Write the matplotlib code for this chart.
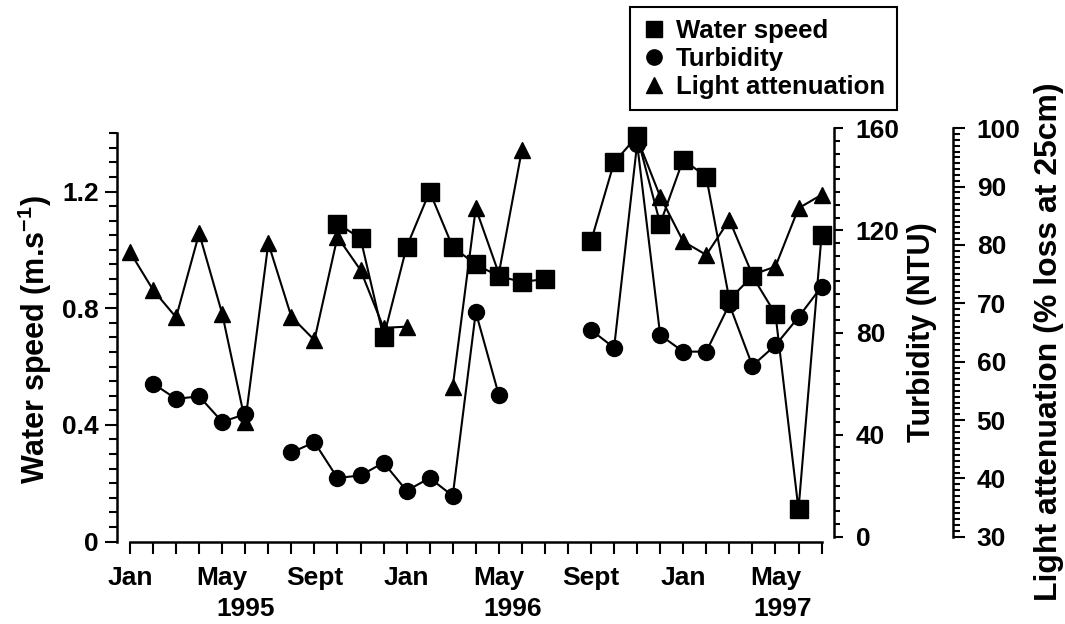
import numpy as np
import matplotlib
matplotlib.use("Agg")
from matplotlib import pyplot as plt
from matplotlib import transforms
from matplotlib.lines import Line2D

plt.rcParams.update({
    "font.family": ["Liberation Sans", "DejaVu Sans"],
    "font.weight": "bold",
    "mathtext.fontset": "custom",
    "mathtext.rm": "Liberation Sans:bold",
    "mathtext.it": "Liberation Sans:bold",
    "mathtext.bf": "Liberation Sans:bold",
    "mathtext.default": "rm",
})

nan = np.nan

# months since Jan 1995
months = list(range(31))

water_speed = [nan, nan, nan, nan, nan, nan, nan, nan, nan,
               1.09, 1.04, 0.70, 1.01, 1.20, 1.01, 0.95, 0.91, 0.89, 0.90, nan,
               1.03, 1.30, 1.39, 1.09, 1.31, 1.25, 0.83, 0.91, 0.78, 0.11, 1.05]

turbidity = [nan, 60, 54, 55, 45, 48, nan, 33, 37,
             23, 24, 29, 18, 23, 16, 88, 55.5, nan, nan, nan,
             81, 74, 154, 79, 72.5, 72.5, 91, 67, 75, 86, 98]

light_att = [78.8, 72.3, 67.6, 82.0, 68.2, 49.7, 80.3, 67.7, 63.7,
             81.4, 75.7, 65.8, 66.0, nan, 55.7, 86.3, 75.1, 96.3, nan, nan,
             nan, nan, 98.3, 88.3, 80.6, 78.3, 84.3, 74.9, 76.3, 86.3, 88.6]

tick_months = [0, 4, 8, 12, 16, 20, 24, 28]
tick_names = ["Jan", "May", "Sept", "Jan", "May", "Sept", "Jan", "May"]
year_pos = [5.0, 16.6, 28.3]
year_names = ["1995", "1996", "1997"]

W, H = 1065, 624
LW = 1.5
TICKSIZE = 19
LABELSIZE = 22

fig = plt.figure(figsize=(W / 100, H / 100), dpi=100)
ax = fig.add_axes([117 / W, 1 - 541.5 / H, 717 / W, 413.2 / H])
ax2 = ax.twinx()
ax3 = ax.twinx()

ax.plot(months, water_speed, color="black", lw=LW, marker="s", ms=12.5, clip_on=False)
ax2.plot(months, turbidity, color="black", lw=LW, marker="o", ms=11.5, clip_on=False)
ax3.plot(months, light_att, color="black", lw=LW, marker="^", ms=12, clip_on=False)

ax.set_xlim(-0.564, 30.54)
ax.set_ylim(0, 1.417)
ax2.set_ylim(-1.88, 160)
ax3.set_ylim(29.18, 100)

# spines
for s in ["top", "right"]:
    ax.spines[s].set_visible(False)
ax.spines["bottom"].set_bounds(0, 30)
ax.spines["left"].set_bounds(0, 1.4)
for a in (ax2, ax3):
    for s in ["top", "left", "bottom"]:
        a.spines[s].set_visible(False)
ax2.spines["right"].set_bounds(0, 160)
ax3.spines["right"].set_bounds(30, 100)
ax3.spines["right"].set_position(("axes", (953.3 - 117) / 717))
for a in (ax, ax2, ax3):
    for sp in a.spines.values():
        sp.set_linewidth(1.8)

# x axis: a tick every month, names every four
ax.set_xticks(tick_months)
ax.set_xticklabels(tick_names)
ax.set_xticks(months, minor=True)
ax.tick_params(axis="x", which="both", direction="out", length=8.6, width=1.5,
               pad=9, labelsize=TICKSIZE)

ax.set_yticks([0, 0.4, 0.8, 1.2])
ax.set_yticklabels(["0", "0.4", "0.8", "1.2"])
ax.set_yticks(np.arange(0, 1.401, 0.05), minor=True)
ax.tick_params(axis="y", which="major", direction="out", length=8.6, width=1.5,
               pad=4.5, labelsize=TICKSIZE)
ax.tick_params(axis="y", which="minor", direction="out", length=5.8, width=1.5)

ax2.set_yticks([0, 40, 80, 120, 160])
ax2.set_yticks(np.arange(0, 161, 5), minor=True)
ax2.tick_params(axis="y", which="major", direction="out", length=6.7, width=1.5,
                pad=9, labelsize=TICKSIZE)
ax2.tick_params(axis="y", which="minor", direction="out", length=4.3, width=1.5)

ax3.set_yticks(np.arange(30, 101, 10))
ax3.set_yticks(np.arange(30, 101, 1), minor=True)
ax3.tick_params(axis="y", which="major", direction="out", length=8.4, width=1.5,
                pad=8.4, labelsize=TICKSIZE)
ax3.tick_params(axis="y", which="minor", direction="out", length=4.8, width=1.5)

# years under the month names
trans = transforms.blended_transform_factory(ax.transData, fig.transFigure)
for x, yr in zip(year_pos, year_names):
    ax.text(x, 1 - 609 / H, yr, transform=trans, ha="center", va="center",
            fontsize=TICKSIZE, fontweight="bold")

fig.text(35 / W, 1 - 340 / H, r"Water speed (m.s$^{-1}$)", rotation=90,
         ha="center", va="center", fontsize=LABELSIZE, fontweight="bold")
fig.text(922 / W, 1 - 332 / H, "Turbidity (NTU)", rotation=90,
         ha="center", va="center", fontsize=LABELSIZE, fontweight="bold")
fig.text(1049 / W, 1 - 342 / H, "Light attenuation (% loss at 25cm)", rotation=90,
         ha="center", va="center", fontsize=23, fontweight="bold")

handles = [
    Line2D([], [], color="black", ls="none", marker="s", ms=11, label="Water speed"),
    Line2D([], [], color="black", ls="none", marker="o", ms=11, label="Turbidity"),
    Line2D([], [], color="black", ls="none", marker="^", ms=11, label="Light attenuation"),
]
leg = fig.legend(handles=handles, loc="upper left",
                 bbox_to_anchor=(630 / W, 1 - 7.3 / H), bbox_transform=fig.transFigure,
                 fancybox=False, edgecolor="black", framealpha=1, fontsize=18.5,
                 handlelength=1.0, handletextpad=0.35, borderpad=0.45,
                 labelspacing=0.15, borderaxespad=0)
leg.get_frame().set_linewidth(1.5)

fig.savefig("out.png", dpi=100)
plt.close(fig)
